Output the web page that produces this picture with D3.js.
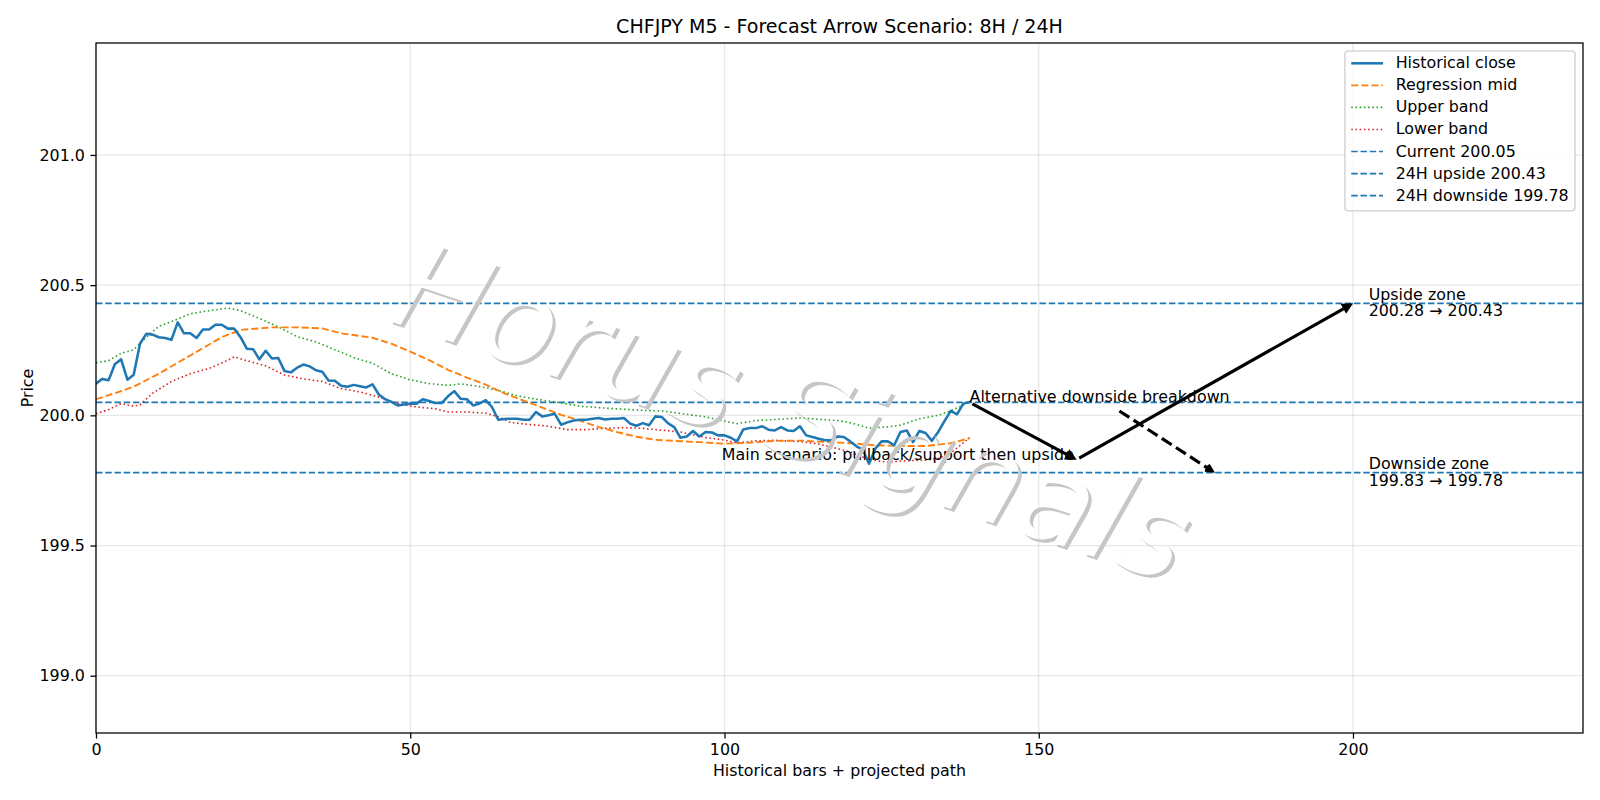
<!DOCTYPE html>
<html>
<head>
<meta charset="utf-8">
<script src="https://cdn.jsdelivr.net/npm/d3@7"></script>
<style>
  html, body { margin: 0; padding: 0; background: #fff; }
  svg text { font-family: "DejaVu Sans", sans-serif; }
</style>
</head>
<body>
<svg id="chart" width="1600" height="800"></svg>
<script>
// ---------------- DATA ----------------
const titleText = "CHFJPY M5 - Forecast Arrow Scenario: 8H / 24H";
const xLabelText = "Historical bars + projected path";
const yLabelText = "Price";
const xTicks = [0, 50, 100, 150, 200];
const yTicks = [199.0, 199.5, 200.0, 200.5, 201.0];
const xDomain = [0, 236.6];
const yDomain = [198.78, 201.43];

// Historical close, one value per bar (bar index = position)
const closeValues = [
  200.122, 200.140, 200.135, 200.196, 200.215, 200.137, 200.156, 200.275, 200.313, 200.310,
  200.300, 200.297, 200.290, 200.357, 200.315, 200.315, 200.297, 200.330, 200.330, 200.348,
  200.348, 200.333, 200.333, 200.300, 200.256, 200.254, 200.215, 200.248, 200.218, 200.220,
  200.170, 200.165, 200.183, 200.195, 200.188, 200.173, 200.167, 200.134, 200.133, 200.114,
  200.110, 200.117, 200.112, 200.107, 200.119, 200.080, 200.062, 200.052, 200.038, 200.042,
  200.045, 200.045, 200.062, 200.055, 200.047, 200.047, 200.073, 200.093, 200.064, 200.062,
  200.038, 200.045, 200.058, 200.032, 199.983, 199.986, 199.987, 199.987, 199.983, 199.983,
  200.013, 199.996, 200.000, 200.006, 199.964, 199.973, 199.980, 199.983, 199.983, 199.987,
  199.990, 199.984, 199.987, 199.987, 199.990, 199.968, 199.960, 199.970, 199.962, 199.996,
  199.994, 199.970, 199.955, 199.914, 199.919, 199.940, 199.919, 199.936, 199.934, 199.923,
  199.923, 199.914, 199.900, 199.946, 199.951, 199.951, 199.958, 199.945, 199.942, 199.955,
  199.942, 199.940, 199.958, 199.923, 199.917, 199.910, 199.904, 199.904, 199.919, 199.917,
  199.900, 199.881, 199.868, 199.814, 199.872, 199.900, 199.900, 199.885, 199.936, 199.942,
  199.897, 199.940, 199.932, 199.902, 199.936, 199.978, 200.017, 200.004, 200.045, 200.051
];

// Regression mid (read at sampled bars)
const midX = [0, 3, 6, 10, 15, 20, 23, 28, 32, 36, 39, 44, 47, 50, 53, 56, 59, 62, 65, 68, 71, 74, 77, 80, 83, 86, 89, 92, 96, 100, 104, 108, 112, 116, 120, 124, 128, 132, 136, 139];
const midY = [200.062, 200.085, 200.110, 200.160, 200.230, 200.300, 200.328, 200.338, 200.338, 200.334, 200.315, 200.298, 200.275, 200.245, 200.212, 200.175, 200.145, 200.118, 200.084, 200.057, 200.030, 200.002, 199.980, 199.955, 199.935, 199.918, 199.906, 199.902, 199.897, 199.891, 199.895, 199.902, 199.903, 199.898, 199.893, 199.885, 199.882, 199.882, 199.893, 199.912];

// Upper band
const upperX = [0, 2, 4, 6, 8, 10, 12, 15, 18, 21, 23, 26, 29, 32, 35, 38, 41, 44, 47, 50, 53, 56, 58, 61, 64, 67, 70, 74, 77, 82, 87, 90, 94, 97, 99, 102, 105, 108, 112, 115, 118, 120, 123, 126, 128, 131, 134, 136, 139];
const upperY = [200.202, 200.210, 200.238, 200.252, 200.300, 200.342, 200.360, 200.390, 200.402, 200.412, 200.402, 200.372, 200.340, 200.302, 200.282, 200.252, 200.222, 200.200, 200.160, 200.136, 200.122, 200.115, 200.121, 200.111, 200.096, 200.075, 200.062, 200.048, 200.035, 200.026, 200.019, 200.017, 200.004, 199.994, 199.983, 199.968, 199.980, 199.984, 199.990, 199.985, 199.980, 199.972, 199.951, 199.956, 199.962, 199.987, 200.000, 200.017, 200.051];

// Lower band
const lowerX = [0, 2, 4, 6, 7, 9, 12, 15, 18, 21, 22, 24, 27, 30, 33, 36, 39, 42, 45, 48, 51, 54, 56, 59, 62, 64, 66, 69, 72, 75, 78, 81, 84, 87, 90, 93, 97, 100, 102, 105, 108, 112, 115, 118, 120, 123, 126, 129, 132, 134, 136, 139];
const lowerY = [200.006, 200.022, 200.045, 200.035, 200.040, 200.085, 200.130, 200.160, 200.180, 200.212, 200.225, 200.210, 200.190, 200.155, 200.140, 200.130, 200.103, 200.090, 200.070, 200.045, 200.032, 200.025, 200.013, 200.013, 200.008, 199.995, 199.972, 199.965, 199.958, 199.945, 199.945, 199.950, 199.953, 199.950, 199.943, 199.936, 199.915, 199.905, 199.894, 199.902, 199.904, 199.899, 199.890, 199.872, 199.860, 199.830, 199.820, 199.826, 199.828, 199.835, 199.855, 199.914];

// Reference levels
const levelNames = ["Current 200.05", "24H upside 200.43", "24H downside 199.78"];
const levelValues = [200.05, 200.43, 199.78];

// Scenario arrows [x0, y0, x1, y1]
const mainArrows = [[139, 200.05, 156, 199.83], [156, 199.83, 200, 200.43]];
const altArrowText = "Alternative downside breakdown";
const altArrowFrom = [139, 200.05];
const altArrowTo = [178, 199.78];
const mainText = "Main scenario: pullback/support then upside";
const mainTextAt = [155.6, 199.83];
const zoneLabels = [["Upside zone", "200.28 \u2192 200.43"], ["Downside zone", "199.83 \u2192 199.78"]];
const zoneAt = [[202.5, 200.43], [202.5, 199.78]];
const watermarkText = "Horus Signals";

const legendLabels = ["Historical close", "Regression mid", "Upper band", "Lower band"].concat(levelNames);

// ---------------- STYLE ----------------
const PT = 1600 / 14 / 72;          // px per point
const FS = 10 * PT;                 // 10pt
const C_BLUE = "#1f77b4", C_ORANGE = "#ff7f0e", C_GREEN = "#2ca02c", C_RED = "#d62728";
const L = 96, R = 1583, T = 43, B = 733;

const svg = d3.select("#chart");
svg.append("rect").attr("width", 1600).attr("height", 800).attr("fill", "#fff");

const x = d3.scaleLinear().domain(xDomain).range([L, R]);
const y = d3.scaleLinear().domain(yDomain).range([B, T]);

const defs = svg.append("defs");
defs.append("clipPath").attr("id", "clip").append("rect")
  .attr("x", L).attr("y", T).attr("width", R - L).attr("height", B - T);

// grid
const grid = svg.append("g");
grid.selectAll("line.gx").data(xTicks).join("line")
  .attr("x1", d => x(d)).attr("x2", d => x(d)).attr("y1", T).attr("y2", B)
  .attr("stroke", "#b0b0b0").attr("stroke-opacity", 0.3).attr("stroke-width", 0.8 * PT);
grid.selectAll("line.gy").data(yTicks).join("line")
  .attr("y1", d => y(d)).attr("y2", d => y(d)).attr("x1", L).attr("x2", R)
  .attr("stroke", "#b0b0b0").attr("stroke-opacity", 0.3).attr("stroke-width", 0.8 * PT);

const plot = svg.append("g").attr("clip-path", "url(#clip)");

function dash(pattern, lw) { return pattern.map(v => (v * lw * PT).toFixed(2)).join(","); }

const lineGen = d3.line().x(d => x(d[0])).y(d => y(d[1]));

// reference levels
const levelLW = 1.1;
plot.selectAll("line.level").data(levelValues).join("line")
  .attr("x1", L).attr("x2", R).attr("y1", d => y(d)).attr("y2", d => y(d))
  .attr("stroke", C_BLUE).attr("stroke-width", levelLW * PT)
  .attr("stroke-dasharray", dash([3.7, 1.6], levelLW));

// bands
const bandLW = 1.0;
plot.append("path").datum(upperX.map((v, i) => [v, upperY[i]])).attr("d", lineGen)
  .attr("fill", "none").attr("stroke", C_GREEN).attr("stroke-width", bandLW * PT)
  .attr("stroke-dasharray", dash([1, 1.65], bandLW));
plot.append("path").datum(lowerX.map((v, i) => [v, lowerY[i]])).attr("d", lineGen)
  .attr("fill", "none").attr("stroke", C_RED).attr("stroke-width", bandLW * PT)
  .attr("stroke-dasharray", dash([1, 1.65], bandLW));
const midLW = 1.2;
plot.append("path").datum(midX.map((v, i) => [v, midY[i]])).attr("d", lineGen)
  .attr("fill", "none").attr("stroke", C_ORANGE).attr("stroke-width", midLW * PT)
  .attr("stroke-dasharray", dash([3.7, 1.6], midLW));

// historical close
const closeLW = 1.6;
plot.append("path").datum(closeValues.map((v, i) => [i, v])).attr("d", lineGen)
  .attr("fill", "none").attr("stroke", C_BLUE).attr("stroke-width", closeLW * PT)
  .attr("stroke-linejoin", "round").attr("stroke-linecap", "square");

// axes spines
const axG = svg.append("g");
axG.append("rect").attr("x", L).attr("y", T).attr("width", R - L).attr("height", B - T)
  .attr("fill", "none").attr("stroke", "#000").attr("stroke-width", 0.8 * PT);

const xAxis = svg.append("g").attr("transform", `translate(0,${B})`)
  .call(d3.axisBottom(x).tickValues(xTicks).tickFormat(d3.format("d")).tickSize(3.5 * PT).tickPadding(3.5 * PT));
const yAxis = svg.append("g").attr("transform", `translate(${L},0)`)
  .call(d3.axisLeft(y).tickValues(yTicks).tickFormat(d3.format(".1f")).tickSize(3.5 * PT).tickPadding(3.5 * PT));
[xAxis, yAxis].forEach(a => {
  a.select(".domain").remove();
  a.selectAll(".tick line").attr("stroke", "#000").attr("stroke-width", 0.8 * PT);
  a.selectAll(".tick text").attr("font-size", FS).attr("fill", "#000")
    .attr("font-family", "DejaVu Sans");
});

// labels
svg.append("text").attr("x", (L + R) / 2).attr("y", 33.3).attr("text-anchor", "middle")
  .attr("font-size", 12 * PT).text(titleText);
svg.append("text").attr("x", (L + R) / 2).attr("y", 776).attr("text-anchor", "middle")
  .attr("font-size", FS).text(xLabelText);
svg.append("text").attr("transform", `translate(32.5,${(T + B) / 2}) rotate(-90)`)
  .attr("text-anchor", "middle").attr("font-size", FS).text(yLabelText);

// ---------------- ARROWS ----------------
const arrowG = svg.append("g");
const ARW = 2 * PT;
const headLen = 0.4 * 10 * PT, headHalf = 0.2 * 10 * PT;
function drawArrow(p0, p1, opts) {
  const dx = p1[0] - p0[0], dy = p1[1] - p0[1];
  const len = Math.hypot(dx, dy), ux = dx / len, uy = dy / len;
  const sA = opts.shrinkA, sB = 2 * PT;
  const s = [p0[0] + ux * sA, p0[1] + uy * sA];
  const tip = [p1[0] - ux * sB, p1[1] - uy * sB];
  const base = [tip[0] - ux * headLen, tip[1] - uy * headLen];
  const nx = -uy, ny = ux;
  if (opts.filled) {
    arrowG.append("line").attr("x1", s[0]).attr("y1", s[1]).attr("x2", base[0]).attr("y2", base[1])
      .attr("stroke", "#000").attr("stroke-width", ARW);
    arrowG.append("polygon")
      .attr("points", [tip, [base[0] + nx * headHalf, base[1] + ny * headHalf], [base[0] - nx * headHalf, base[1] - ny * headHalf]].map(p => p.join(",")).join(" "))
      .attr("fill", "#000").attr("stroke", "#000").attr("stroke-width", ARW).attr("stroke-linejoin", "miter").attr("stroke-miterlimit", 4);
  } else {
    arrowG.append("line").attr("x1", s[0]).attr("y1", s[1]).attr("x2", tip[0]).attr("y2", tip[1])
      .attr("stroke", "#000").attr("stroke-width", ARW).attr("stroke-dasharray", dash([3.7, 1.6], 2));
    arrowG.append("path")
      .attr("d", `M${base[0] + nx * headHalf},${base[1] + ny * headHalf} L${tip[0]},${tip[1]} L${base[0] - nx * headHalf},${base[1] - ny * headHalf}`)
      .attr("fill", "none").attr("stroke", "#000").attr("stroke-width", ARW);
  }
}
mainArrows.forEach(a => drawArrow([x(a[0]), y(a[1])], [x(a[2]), y(a[3])], { filled: true, shrinkA: 2 * PT }));

// alternative arrow: from text bbox centre, clipped by padded bbox
const altT = svg.append("text").attr("x", x(altArrowFrom[0])).attr("y", y(altArrowFrom[1]))
  .attr("font-size", FS).text(altArrowText);
{
  const w = altT.node().getComputedTextLength();
  const bx0 = x(altArrowFrom[0]), bl = y(altArrowFrom[1]);
  const pad = 2 * PT;
  const rx0 = bx0 - pad, rx1 = bx0 + w + pad, ry0 = bl - 0.76 * FS - pad, ry1 = bl + 0.236 * FS + pad;
  const c = [bx0 + w / 2, bl + (0.236 - 0.76) / 2 * FS];
  const tgt = [x(altArrowTo[0]), y(altArrowTo[1])];
  const dx = tgt[0] - c[0], dy = tgt[1] - c[1];
  let t = 1;
  if (dx > 0) t = Math.min(t, (rx1 - c[0]) / dx);
  if (dx < 0) t = Math.min(t, (rx0 - c[0]) / dx);
  if (dy > 0) t = Math.min(t, (ry1 - c[1]) / dy);
  if (dy < 0) t = Math.min(t, (ry0 - c[1]) / dy);
  const start = [c[0] + dx * t, c[1] + dy * t];
  drawArrow(start, tgt, { filled: false, shrinkA: 2 * PT });
}

svg.append("text").attr("x", x(mainTextAt[0])).attr("y", y(mainTextAt[1]))
  .attr("text-anchor", "end").attr("font-size", FS).text(mainText);

zoneLabels.forEach((lines, i) => {
  const t = svg.append("text").attr("font-size", FS);
  t.append("tspan").attr("x", x(zoneAt[i][0])).attr("y", y(zoneAt[i][1]) - 3.5).text(lines[0]);
  t.append("tspan").attr("x", x(zoneAt[i][0])).attr("y", y(zoneAt[i][1]) + 13).text(lines[1]);
});

// ---------------- LEGEND ----------------
const lg = svg.append("g");
const legendStyles = [
  { c: C_BLUE, lw: closeLW, da: null },
  { c: C_ORANGE, lw: midLW, da: [3.7, 1.6] },
  { c: C_GREEN, lw: bandLW, da: [1, 1.65] },
  { c: C_RED, lw: bandLW, da: [1, 1.65] },
  { c: C_BLUE, lw: levelLW, da: [3.7, 1.6] },
  { c: C_BLUE, lw: levelLW, da: [3.7, 1.6] },
  { c: C_BLUE, lw: levelLW, da: [3.7, 1.6] }
];
const lgBox = lg.append("rect");
const texts = [];
const rowH = 22.05, row0 = 63.3;
let maxW = 0;
legendLabels.forEach((lab, i) => {
  const t = lg.append("text").attr("font-size", FS).attr("y", row0 + i * rowH + 5).text(lab);
  texts.push(t);
  maxW = Math.max(maxW, t.node().getComputedTextLength());
});
const lgRight = 1575, lgTop = 51, lgBottom = 210.7;
const bp = 0.4 * FS, hl = 2 * FS, htp = 0.8 * FS;
const lgLeft = lgRight - (bp + hl + htp + maxW + bp);
lgBox.attr("x", lgLeft).attr("y", lgTop).attr("width", lgRight - lgLeft).attr("height", lgBottom - lgTop)
  .attr("rx", 0.2 * FS).attr("fill", "#fff").attr("fill-opacity", 0.8)
  .attr("stroke", "#cccccc").attr("stroke-width", 1.0 * PT).attr("stroke-opacity", 0.8);
texts.forEach(t => t.attr("x", lgLeft + bp + hl + htp));
legendStyles.forEach((s, i) => {
  const ly = row0 + i * rowH;
  const ln = lg.append("line").attr("x1", lgLeft + bp).attr("x2", lgLeft + bp + hl)
    .attr("y1", ly).attr("y2", ly).attr("stroke", s.c).attr("stroke-width", s.lw * PT);
  if (s.da) ln.attr("stroke-dasharray", dash(s.da, s.lw));
});

// ---------------- WATERMARK ----------------
const wmSize = 121, wmRot = 18.5, wmCx = 792, wmCy = 412, off = 2 * PT;
const mask = defs.append("mask").attr("id", "wmMask").attr("maskUnits", "userSpaceOnUse")
  .attr("x", 0).attr("y", 0).attr("width", 1600).attr("height", 800);
mask.append("rect").attr("width", 1600).attr("height", 800).attr("fill", "#fff");
mask.append("text").attr("transform", `translate(${wmCx},${wmCy}) rotate(${wmRot})`)
  .attr("text-anchor", "middle").attr("dominant-baseline", "central")
  .attr("font-size", wmSize).attr("font-style", "italic").attr("fill", "#000").text(watermarkText);
svg.append("g").attr("mask", "url(#wmMask)").append("text")
  .attr("transform", `translate(${wmCx + off},${wmCy + off}) rotate(${wmRot})`)
  .attr("text-anchor", "middle").attr("dominant-baseline", "central")
  .attr("font-size", wmSize).attr("font-style", "italic").attr("fill", "#c6c6c6").text(watermarkText);
</script>
</body>
</html>
